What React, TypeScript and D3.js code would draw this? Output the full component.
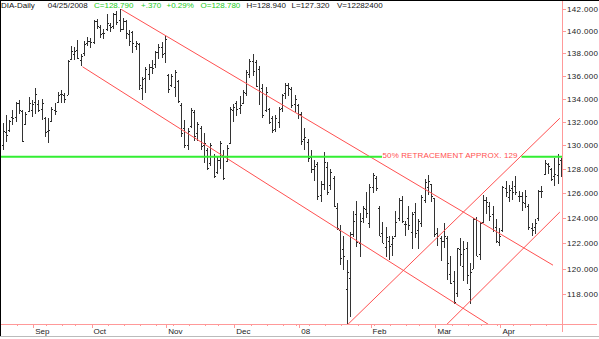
import React from 'react';
import * as d3 from 'd3';

// ---- data -----------------------------------------------------------
// weekdays that carry no bar in the reference chart
const noBarDays = ['2007-09-03', '2007-09-20', '2007-11-22', '2007-12-25', '2008-01-01', '2008-02-18', '2008-03-21'];
const firstDay = new Date(2007, 7, 20);
const lastDay = new Date(2008, 3, 25);

const opens = [
  130.0, 131.1, 131.3, 132.4, 132.4, 133.6, 132.9, 131.8, 132.9, 133.0,
  133.7, 133.5, 133.1, 132.3, 131.2, 132.1, 133.0, 133.7, 134.4, 134.3,
  134.3, 137.5, 137.9, 138.3, 137.4, 138.0, 138.9, 139.1, 139.0, 140.9,
  140.4, 139.8, 140.2, 140.6, 140.5, 141.6, 141.0, 140.2, 140.9, 139.7,
  139.9, 138.7, 138.8, 134.9, 135.8, 136.2, 136.8, 137.0, 138.1, 138.6,
  138.0, 136.1, 135.2, 135.0, 135.5, 133.4, 131.5, 130.0, 131.6, 132.8,
  131.0, 131.5, 130.0, 129.6, 128.5, 129.1, 127.8, 128.8, 129.2, 128.7,
  130.2, 133.0, 133.6, 133.2, 133.6, 134.5, 136.2, 137.3, 137.2, 136.6,
  134.9, 133.0, 133.1, 132.3, 131.4, 132.0, 133.2, 134.5, 135.2, 134.8,
  133.5, 133.4, 132.7, 130.5, 130.3, 129.0, 128.0, 128.4, 125.9, 126.8,
  128.2, 126.7, 127.3, 124.8, 123.0, 121.5, 118.4, 119.3, 122.7, 124.3,
  122.0, 124.0, 124.7, 123.6, 126.5, 127.3, 124.8, 122.8, 121.7, 122.2,
  121.9, 122.6, 124.0, 125.5, 123.5, 124.0, 122.9, 124.5, 123.0, 123.6,
  125.5, 126.5, 126.8, 125.6, 122.8, 122.4, 122.2, 122.4, 119.6, 119.0,
  118.1, 121.5, 120.2, 121.6, 118.4, 120.0, 123.9, 121.1, 123.7, 125.5,
  125.0, 124.3, 123.3, 122.1, 123.0, 126.4, 125.7, 126.4, 126.6, 125.8,
  125.8, 125.2, 125.0, 123.2, 123.3, 124.0, 126.2, 127.6, 128.4, 128.0,
  127.4, 127.5, 128.78,
];
const highs = [
  131.85, 132.6, 132.15, 133.0, 133.7, 133.87, 133.0, 132.85, 134.1, 133.87,
  134.9, 133.87, 134.0, 132.4, 132.3, 133.3, 133.6, 134.6, 134.75, 134.5,
  137.4, 138.7, 138.6, 139.2, 137.9, 139.1, 139.5, 139.4, 141.0, 141.1,
  140.6, 140.2, 141.6, 140.7, 141.7, 141.8, 142.0, 141.2, 141.0, 140.1,
  140.0, 139.1, 138.9, 135.9, 136.8, 137.0, 137.4, 138.2, 138.8, 139.0,
  139.6, 136.2, 136.2, 136.5, 135.6, 133.6, 132.15, 131.5, 133.2, 133.0,
  132.0, 131.6, 131.0, 129.8, 130.2, 129.3, 129.0, 130.4, 129.6, 130.0,
  133.3, 133.5, 133.8, 134.2, 134.75, 136.5, 137.5, 137.9, 137.4, 136.9,
  135.3, 135.0, 133.2, 132.5, 132.6, 133.3, 134.4, 135.4, 135.4, 135.0,
  134.3, 133.5, 132.8, 131.5, 130.5, 129.6, 128.8, 128.6, 127.0, 129.4,
  128.6, 128.0, 127.4, 125.2, 123.4, 122.6, 120.7, 122.9, 124.6, 125.4,
  124.4, 125.0, 126.1, 126.8, 127.7, 127.4, 125.0, 123.7, 123.3, 122.6,
  122.6, 124.6, 125.6, 125.8, 123.8, 125.0, 124.5, 125.2, 123.9, 125.9,
  127.2, 127.5, 126.8, 125.6, 123.2, 122.6, 123.6, 122.6, 121.0, 119.8,
  121.6, 122.4, 122.2, 122.1, 120.4, 124.0, 124.1, 123.7, 125.9, 125.7,
  125.3, 125.0, 123.9, 123.2, 126.6, 127.0, 126.7, 127.0, 127.4, 126.2,
  126.1, 126.3, 125.1, 123.6, 123.9, 126.3, 126.6, 128.8, 128.5, 128.1,
  128.9, 129.3, 128.94,
];
const lows = [
  129.6, 130.3, 131.15, 131.7, 132.0, 132.7, 130.3, 131.7, 132.85, 132.4,
  132.7, 132.85, 132.15, 130.7, 130.15, 132.0, 132.6, 133.6, 133.6, 133.6,
  134.3, 137.4, 137.4, 137.5, 136.9, 137.8, 138.7, 138.5, 138.8, 140.2,
  139.4, 139.3, 140.0, 139.9, 140.2, 140.6, 139.9, 140.1, 139.3, 138.7,
  138.0, 138.3, 134.75, 133.9, 134.5, 135.6, 136.2, 136.7, 137.5, 137.6,
  137.1, 134.5, 135.0, 134.1, 133.6, 130.7, 129.8, 129.6, 131.5, 130.4,
  130.4, 129.6, 128.5, 127.9, 128.3, 127.3, 127.6, 128.0, 127.1, 128.6,
  130.1, 132.0, 132.5, 132.7, 133.5, 134.2, 135.8, 136.0, 135.0, 133.4,
  132.3, 132.8, 131.8, 131.0, 131.1, 131.5, 132.8, 134.0, 134.2, 133.2,
  132.8, 132.2, 130.0, 129.6, 128.6, 127.7, 127.0, 125.5, 125.3, 126.3,
  125.9, 126.3, 124.9, 123.0, 120.3, 119.9, 115.5, 116.3, 122.5, 121.7,
  120.9, 123.6, 124.0, 123.2, 126.0, 126.2, 122.6, 122.0, 120.9, 120.7,
  121.0, 122.5, 123.8, 123.6, 122.6, 123.0, 121.5, 122.4, 121.5, 123.3,
  125.2, 125.9, 125.3, 122.5, 121.8, 120.6, 121.6, 119.1, 118.8, 117.3,
  117.8, 120.2, 119.0, 118.8, 117.3, 120.0, 121.0, 120.7, 123.6, 124.3,
  123.8, 122.9, 122.0, 121.8, 122.9, 125.7, 125.3, 125.5, 125.9, 125.3,
  124.6, 124.8, 123.0, 122.6, 122.7, 123.8, 125.6, 127.5, 127.6, 127.0,
  126.6, 126.8, 127.32,
];
const closes = [
  131.2, 130.9, 132.1, 132.3, 133.6, 133.0, 130.4, 132.7, 133.6, 133.5,
  134.4, 133.0, 133.6, 131.1, 131.3, 133.1, 132.9, 134.3, 134.4, 134.0,
  137.3, 138.2, 138.2, 137.6, 137.8, 138.8, 139.1, 139.0, 140.9, 140.5,
  139.7, 139.8, 140.7, 140.4, 141.6, 140.8, 140.2, 140.9, 139.8, 139.1,
  138.9, 138.9, 135.2, 135.7, 136.6, 136.8, 136.7, 138.1, 138.6, 137.9,
  139.3, 134.8, 136.0, 136.3, 133.8, 131.0, 130.0, 131.2, 133.0, 130.8,
  131.8, 129.9, 130.2, 128.1, 130.0, 127.4, 128.8, 130.2, 127.3, 129.8,
  133.1, 133.3, 133.1, 133.4, 134.6, 136.3, 137.3, 136.4, 135.1, 134.7,
  132.6, 134.6, 132.0, 131.3, 132.3, 133.1, 134.3, 135.2, 134.9, 133.4,
  134.0, 132.7, 130.4, 130.7, 128.9, 128.0, 128.3, 125.8, 126.8, 128.6,
  126.1, 127.8, 125.0, 123.2, 120.8, 121.0, 119.7, 122.7, 123.8, 122.1,
  123.8, 124.8, 124.4, 126.5, 127.5, 126.4, 122.6, 122.0, 122.5, 121.8,
  122.4, 123.7, 125.5, 123.8, 123.5, 123.4, 124.3, 122.8, 123.8, 125.7,
  126.9, 127.0, 125.8, 122.7, 122.6, 122.2, 122.6, 120.4, 118.9, 117.4,
  121.6, 121.1, 121.5, 119.5, 119.7, 123.9, 121.0, 123.6, 125.5, 125.3,
  124.2, 123.0, 122.2, 122.6, 126.5, 126.1, 126.3, 126.1, 126.1, 125.8,
  125.3, 125.8, 123.3, 123.0, 123.6, 126.2, 126.2, 128.5, 128.3, 127.2,
  127.6, 128.42, 128.79,
];

const priceTicks = [118, 120, 122, 124, 126, 128, 130, 132, 134, 136, 138, 140, 142];
const monthLabels = ['Sep', 'Oct', 'Nov', 'Dec', '08', 'Feb', 'Mar', 'Apr'];

// trend lines: [bar index, price] -> [bar index, price]
const trendStartIdx = [36.5, 24.6, 106.4, 136.9];
const trendStartPrice = [142.0, 136.8, 115.73, 115.73];
const trendEndIdx = [169.6, 149.65, 171.7, 171.7];
const trendEndPrice = [120.26, 115.73, 132.3, 124.48];

const retracePrice = 129.03;
const retraceLabel = '50% RETRACEMENT APPROX. 129';

const headerTexts = ['DIA-Daily', '04/25/2008', 'C=128.790', '+.370', '+0.29%', 'O=128.780', 'H=128.940', 'L=127.320', 'V=12282400'];
const headerIsGreen = [false, false, true, true, true, true, false, false, false];

// ---- helpers ----------------------------------------------------------
const fmtDay = d3.timeFormat('%Y-%m-%d');
const days: Date[] = d3.timeDay
  .range(firstDay, d3.timeDay.offset(lastDay, 1))
  .filter((d) => d.getDay() !== 0 && d.getDay() !== 6 && !noBarDays.includes(fmtDay(d)));

const W = 599;
const H = 339;
const plotBottom = 324.3;
const axisX = 562.3;

const FONT = '"Liberation Sans", Arial, Helvetica, sans-serif';
const RED = '#ff5050';
const AXIS = '#ff9999';
const GREEN = '#33ee33';

export default function App() {
  const n = days.length;
  const x = d3.scaleLinear().domain([0, n - 1]).range([2.7, 560.8]);
  const y = d3.scaleLog().domain([115.73, 142.86]).range([plotBottom, 0]);

  const monthStarts: number[] = [];
  const weekStarts: number[] = [];
  days.forEach((d, i) => {
    if (i === 0) return;
    const p = days[i - 1];
    if (d.getMonth() !== p.getMonth()) monthStarts.push(i);
    if (d.getDay() < p.getDay()) weekStarts.push(i);
  });

  const px = (v: number) => Math.round(v) + 0.5;

  const headerX = [1, 47.7, 94, 141, 166.5, 200.5, 246.5, 291.5, 337];

  const gy = y(retracePrice);

  return (
    <svg
      width={W}
      height={H}
      style={{ position: 'fixed', left: 0, top: 0, background: '#fff' }}
      fontFamily={FONT}
    >
      <rect x={0} y={0} width={W} height={H} fill="#fff" />
      <defs>
        <clipPath id="plot">
          <rect x={0} y={0} width={axisX} height={plotBottom} />
        </clipPath>
      </defs>

      {/* bars */}
      <g clipPath="url(#plot)" shapeRendering="crispEdges">
        {days.map((d, i) => {
          const cx = Math.round(x(i));
          const top = y(highs[i]);
          const bot = y(lows[i]);
          return (
            <g key={i}>
              <rect x={cx - 0.5} y={top} width={1.6} height={Math.max(1, bot - top)} fill="#333" />
              <rect x={cx - 1.5} y={Math.round(y(opens[i]))} width={1} height={1} fill="#222" />
              <rect x={cx + 1} y={Math.round(y(closes[i]))} width={1} height={1} fill="#222" />
            </g>
          );
        })}
      </g>

      {/* trend lines */}
      <g clipPath="url(#plot)" stroke={RED} strokeWidth={1} fill="none">
        {trendStartIdx.map((s, k) => (
          <line
            key={k}
            x1={x(s)}
            y1={y(trendStartPrice[k])}
            x2={x(trendEndIdx[k])}
            y2={y(trendEndPrice[k])}
          />
        ))}
      </g>

      {/* retracement */}
      <line x1={0} x2={382} y1={gy} y2={gy} stroke={GREEN} strokeWidth={2} />
      <line x1={521.5} x2={axisX} y1={gy} y2={gy} stroke={GREEN} strokeWidth={2} />
      <text x={382.5} y={gy + 1} fontSize={8} fill={RED} textLength={135} lengthAdjust="spacing">
        {retraceLabel}
      </text>

      {/* right axis */}
      <g shapeRendering="crispEdges">
        <line x1={axisX} x2={axisX} y1={0} y2={332} stroke={AXIS} strokeWidth={1.5} />
        {priceTicks.map((t) => (
          <line key={t} x1={axisX} x2={axisX + 4} y1={px(y(t))} y2={px(y(t))} stroke={AXIS} />
        ))}
      </g>
      {priceTicks.map((t) => (
        <text key={t} x={567} y={y(t) + 3} fontSize={8} fill="#222" textLength={31} lengthAdjust="spacing">
          {d3.format('.3f')(t)}
        </text>
      ))}

      {/* bottom axis */}
      <g shapeRendering="crispEdges" stroke={AXIS}>
        <line x1={0} x2={597} y1={plotBottom} y2={plotBottom} strokeWidth={1.5} />
        {weekStarts.map((i) => (
          <line key={'w' + i} x1={px(x(i)) - 2} x2={px(x(i)) - 2} y1={plotBottom} y2={plotBottom + 2} />
        ))}
        {monthStarts.map((i) => (
          <line key={'m' + i} x1={px(x(i)) - 2} x2={px(x(i)) - 2} y1={plotBottom} y2={plotBottom + 4} />
        ))}
      </g>
      {monthStarts.map((i, k) => (
        <text key={'ml' + i} x={x(i)} y={334} fontSize={8} fill="#222">
          {monthLabels[k]}
        </text>
      ))}

      {/* header */}
      {headerTexts.map((t, k) => (
        <text key={'h' + k} x={headerX[k]} y={7.6} fontSize={8} fill={headerIsGreen[k] ? '#22cc22' : '#111'}>
          {t}
        </text>
      ))}

      {/* frame */}
      <g shapeRendering="crispEdges">
        <line x1={0.5} x2={0.5} y1={0} y2={337} stroke="#000" />
        <line x1={0} x2={W} y1={0.5} y2={0.5} stroke="#000" />
        <line x1={0} x2={W} y1={336.5} y2={336.5} stroke="#bbb" />
      </g>
    </svg>
  );
}
